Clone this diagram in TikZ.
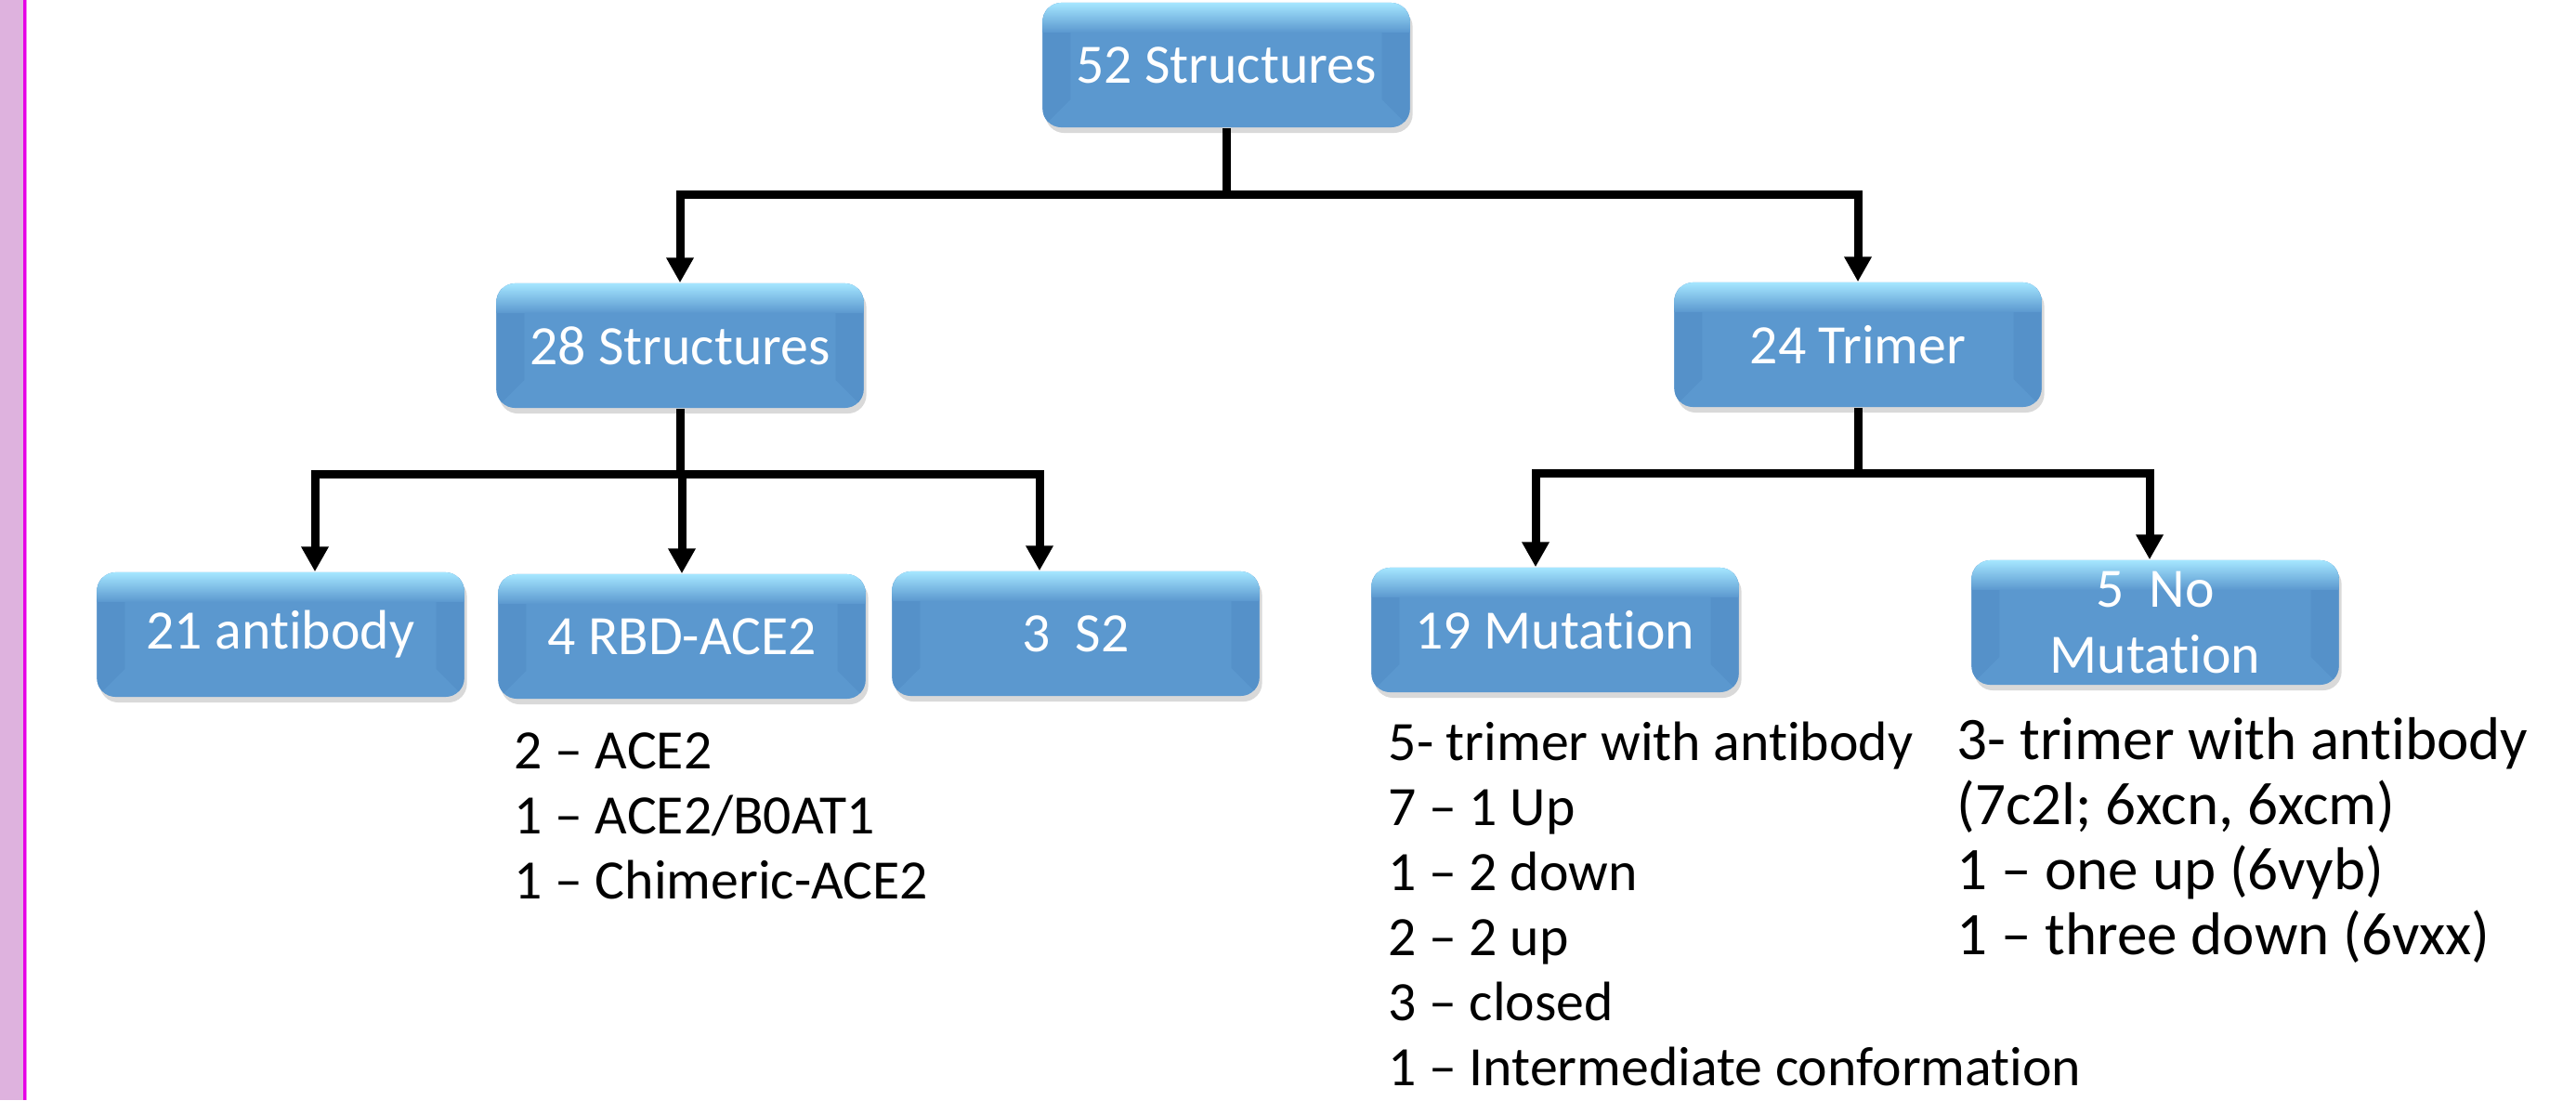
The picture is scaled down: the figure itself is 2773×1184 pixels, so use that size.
\documentclass[tikz,border=0pt]{standalone}
\usepackage{fontspec}
\setmainfont{Carlito}[Ligatures=NoCommon]
\usetikzlibrary{arrows.meta,calc,shadows}

\definecolor{boxblue}{RGB}{91,152,207}
\definecolor{boxtop}{RGB}{165,230,255}
\definecolor{boxside}{RGB}{85,145,201}
\definecolor{stripfill}{RGB}{222,178,222}
\definecolor{stripline}{RGB}{230,0,230}
\definecolor{stripedge}{RGB}{242,130,242}

\tikzset{
  box/.style={rounded corners=0.2cm, fill=boxblue, text=white,
    minimum width=3.95cm, minimum height=1.34cm, inner sep=0pt, align=center,
    font=\fontsize{17}{20.4}\selectfont,
    drop shadow={opacity=0.3,shadow xshift=0.03cm,shadow yshift=-0.06cm},
    path picture={
      \fill[boxside,sharp corners] (path picture bounding box.north west) -- ++(0.3cm,-0.3cm)
        -- ([shift={(0.3cm,0.3cm)}]path picture bounding box.south west)
        -- (path picture bounding box.south west) -- cycle;
      \fill[boxside,sharp corners] (path picture bounding box.north east) -- ++(-0.3cm,-0.3cm)
        -- ([shift={(-0.3cm,0.3cm)}]path picture bounding box.south east)
        -- (path picture bounding box.south east) -- cycle;
      \shade[top color=boxtop,bottom color=boxblue,sharp corners]
        (path picture bounding box.north west) rectangle ([yshift=-0.32cm]path picture bounding box.north east);
    }},
  link/.style={line width=0.09cm},
  arrow/.style={link,-{Triangle[width=0.28cm,length=0.27cm]}},
  item/.style={anchor=base west, inner sep=0pt, font=\fontsize{17}{20}\selectfont},
  bigitem/.style={item, font=\fontsize{18.5}{22}\selectfont}
}

\begin{document}
\begin{tikzpicture}[x=0.01cm,y=-0.01cm]
  \useasboundingbox (0,0) rectangle (2773,1184);
  % side strip
  \fill[stripfill] (0,0) rectangle (25,1184);
  \fill[stripline] (25,0) rectangle (28,1184);
  \fill[stripedge] (28,0) rectangle (29,1184);

  % boxes
  \node[box] (top) at (1320,70) {52 Structures};
  \node[box] (s28) at (732,372) {28 Structures};
  \node[box] (trimer) at (2000,371) {24 Trimer};
  \node[box] (antibody) at (302,683) {21 antibody};
  \node[box] (rbd) at (734,685) {4 RBD-ACE2};
  \node[box] (s2) at (1158,682) {3~ S2};
  \node[box] (mut) at (1674,678) {19 Mutation};
  \node[box] (nomut) at (2320,670) {5~ No\\Mutation};

  % connectors
  \coordinate (j0) at (1320,209);
  \coordinate (j1) at (732,510);
  \coordinate (j2) at (2000,509);
  \draw[link] (top.south) -- (j0);
  \draw[arrow] (j0) -| (s28.north);
  \draw[arrow] (j0) -| (trimer.north);
  \draw[link] (s28.south) -- (j1);
  \draw[arrow] (j1) -| ($(antibody.north)+(37,0)$);
  \draw[arrow] (j1) -| (rbd.north);
  \draw[arrow] (j1) -| ($(s2.north)+(-39,0)$);
  \draw[link] (trimer.south) -- (j2);
  \draw[arrow] (j2) -| ($(mut.north)+(-21,0)$);
  \draw[arrow] (j2) -| ($(nomut.north)+(-6,0)$);

  % lists
  \foreach \t [count=\i] in {2 -- ACE2, 1 -- ACE2/B0AT1, 1 -- Chimeric-ACE2}
    \node[item] (ace\i) at (553,{827+70*(\i-1)}) {\t};
  \foreach \t [count=\i] in {5- trimer with antibody, 7 -- 1 Up, 1 -- 2 down,
      2 -- 2 up, 3 -- closed, 1 -- Intermediate conformation}
    \node[item] (mutl\i) at (1494,{818+70*(\i-1)}) {\t};
  \foreach \t [count=\i] in {3- trimer with antibody, {(7c2l; 6xcn, 6xcm)},
      1 -- one up (6vyb), 1 -- three down (6vxx)}
    \node[bigitem] (nomutl\i) at (2106,{817+70*(\i-1)}) {\t};
\end{tikzpicture}
\end{document}
